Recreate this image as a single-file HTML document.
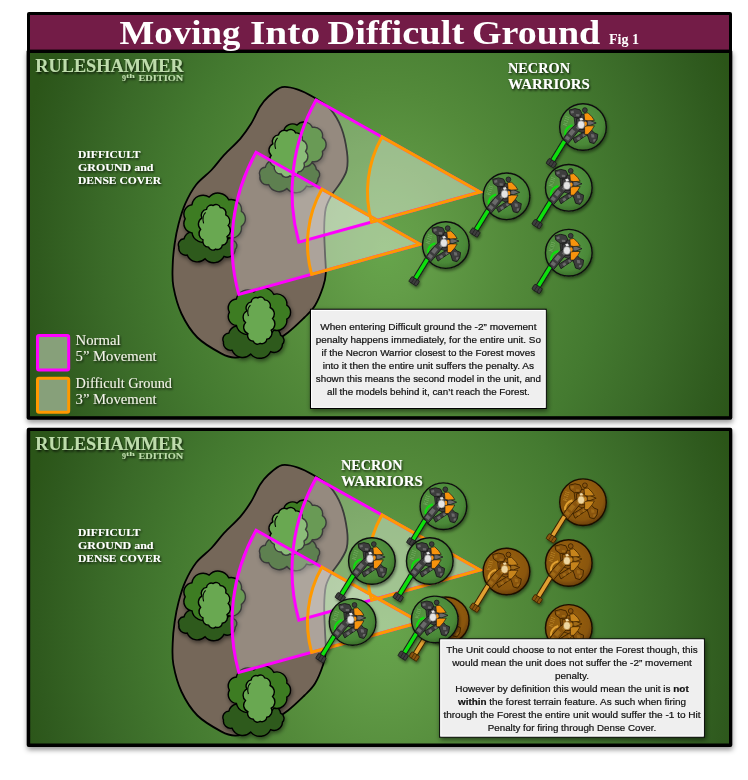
<!DOCTYPE html>
<html><head><meta charset="utf-8"><title>Moving Into Difficult Ground</title>
<style>html,body{margin:0;padding:0;background:#fff;width:748px;height:780px;overflow:hidden;font-family:"Liberation Sans",sans-serif}svg{display:block}</style>
</head><body>
<svg width="748" height="780" viewBox="0 0 748 780">
<defs>
  <radialGradient id="bg1" cx="0" cy="0" r="1" gradientUnits="userSpaceOnUse" gradientTransform="translate(385,250) scale(372,465)">
    <stop offset="0" stop-color="#66a54b"/>
    <stop offset="0.1" stop-color="#639d48"/>
    <stop offset="0.34" stop-color="#538a3a"/>
    <stop offset="0.58" stop-color="#447a30"/>
    <stop offset="0.76" stop-color="#3a6a28"/>
    <stop offset="0.93" stop-color="#2f5a1e"/>
    <stop offset="1" stop-color="#2b5518"/>
  </radialGradient>
  <radialGradient id="bg2" href="#bg1" gradientTransform="translate(385,628) scale(372,465)"/>
  <radialGradient id="pinkfill1" cx="480" cy="192" r="188" gradientUnits="userSpaceOnUse">
    <stop offset="0.58" stop-color="#fff" stop-opacity="0.02"/>
    <stop offset="0.77" stop-color="#fff" stop-opacity="0.23"/>
    <stop offset="1" stop-color="#fff" stop-opacity="0.3"/>
  </radialGradient>
  <radialGradient id="pinkfill2" href="#pinkfill1" cx="420" cy="244.2"/>
  <radialGradient id="basegr" cx="0.45" cy="0.4" r="0.6">
    <stop offset="0" stop-color="#5a9a45"/>
    <stop offset="0.8" stop-color="#4a8838"/>
    <stop offset="1" stop-color="#3a6e2a"/>
  </radialGradient>
  <radialGradient id="basebr" cx="0.45" cy="0.4" r="0.6">
    <stop offset="0" stop-color="#9c6410"/>
    <stop offset="0.8" stop-color="#8a560c"/>
    <stop offset="1" stop-color="#6a3e06"/>
  </radialGradient>
  <filter id="psh" x="-5%" y="-5%" width="110%" height="115%">
    <feDropShadow dx="0.5" dy="3" stdDeviation="2.8" flood-color="#000" flood-opacity="0.4"/>
  </filter>
  <filter id="tsh" x="-20%" y="-20%" width="140%" height="140%">
    <feDropShadow dx="1" dy="2" stdDeviation="2" flood-color="#000" flood-opacity="0.5"/>
  </filter>
  <filter id="msh" x="-30%" y="-30%" width="160%" height="160%">
    <feDropShadow dx="1" dy="2" stdDeviation="1.5" flood-color="#000" flood-opacity="0.45"/>
  </filter>
  <filter id="txsh" x="-10%" y="-30%" width="120%" height="160%">
    <feDropShadow dx="1" dy="1.5" stdDeviation="1.2" flood-color="#000" flood-opacity="0.8"/>
  </filter>
  <filter id="bxsh" x="-10%" y="-10%" width="120%" height="130%">
    <feDropShadow dx="1" dy="2" stdDeviation="2.5" flood-color="#000" flood-opacity="0.55"/>
  </filter>
  <filter id="noop" x="0" y="0" width="1" height="1"><feOffset dx="0" dy="0"/></filter>
  <clipPath id="c1"><rect x="30" y="53" width="699" height="363.2"/></clipPath>
  <clipPath id="c2"><rect x="30.2" y="431" width="698.8" height="312.5"/></clipPath>
<g id="nec">
  <circle r="23.3" fill="url(#basegr)" stroke="#111" stroke-width="1.4"/>
  <text x="-16.5" y="-0.5" font-family="Liberation Serif" font-size="6" fill="#79b065" transform="rotate(-72 -16.5 -0.5)">KIII</text>
  <path d="M-18.5,14.2 L-30.8,34.2" stroke="#1a1a1a" stroke-width="5.6"/>
  <path d="M-18.5,14.2 L-30.8,34.2" stroke="#0be00b" stroke-width="3.6"/>
  <g transform="translate(-31.6,36.2) rotate(32)"><rect x="-4.6" y="-3" width="9.2" height="6" rx="1.2" fill="#3e3e3e" stroke="#1a1a1a" stroke-width="0.8"/><path d="M-1.5,-3 V3 M1.5,-3 V3" stroke="#1a1a1a" stroke-width="0.6"/></g>
  <path d="M-17.8,8 C-18.5,3 -15,-0.5 -10.5,-1.8" fill="none" stroke="#0be00b" stroke-width="2.2"/>
  <path d="M-9,-11 L-2,-13 L3,-12 L4.5,-5 L4,4 L0,6 L-5,4 L-8,-2Z" fill="#3e3e3e" stroke="#1a1a1a" stroke-width="0.8"/>
  <path d="M-13.8,-17 L-8,-18.4 L-3,-17.2 L-1.2,-13.6 L-2.6,-10 L-8.5,-9.4 L-13,-12.6Z" fill="#3e3e3e" stroke="#1a1a1a" stroke-width="0.9"/>
  <path d="M-7,-13 L-3.6,-12.8 L-3.8,-10.6 L-6.8,-10.8Z" fill="#6a6a6a"/>
  <path d="M-12.5,-15.5 L-9.5,-16.5 L-9,-14 L-11.8,-13.4Z" fill="#6a6a6a"/>
  <circle cx="1.9" cy="-16.9" r="2.4" fill="#3e3e3e" stroke="#1a1a1a" stroke-width="0.8"/>
  <path d="M-6.5,-8.5 L2.2,-9 L4,-3 L2.6,2.5 L-2.5,2.6 L-6.8,-1Z" fill="#3e3e3e" stroke="#1a1a1a" stroke-width="0.8"/>
  <path d="M4.2,-6.4 L7,-6.6 L13.2,-4 L7,-1.6 L4.2,-1.8Z" fill="#6a6a6a" stroke="#1a1a1a" stroke-width="0.8"/>
  <path d="M4.6,2.8 L8.8,3.2 L11,5.8 L14.8,7.4 L14,12.6 L11.2,16.6 L6.8,15.4 L5.5,11 L3.8,7Z" fill="#3e3e3e" stroke="#1a1a1a" stroke-width="0.9"/>
  <path d="M8,7 L11,7.5 L11.5,10.5 L8.5,10.5Z M10.5,12.2 L12.8,12 L12,14.6 L10,14.4Z" fill="#6a6a6a"/>
  <path d="M-10,11.6 L-4.8,8.4 L0.2,5.4 L3.4,4 L4.8,7.4 L0.8,10 L-4,13.2 L-7.8,16Z" fill="#3e3e3e" stroke="#1a1a1a" stroke-width="0.9"/>
  <path d="M-6.5,11.2 L-3.8,9.6 L-2.4,12 L-5,13.6Z M-0.8,7.8 L1.8,6.4 L2.8,8.6 L0.4,10Z" fill="#6a6a6a"/>
  <path d="M-19.6,11.6 L-16.6,7.2 L-12.6,2.4 L-8.2,-1.8 L-3.8,-4.8 L-0.4,-0.8 L-4.2,3.6 L-8.2,8.4 L-12,13.2 L-15.4,17Z" fill="#3e3e3e" stroke="#1a1a1a" stroke-width="0.9"/>
  <path d="M-14.6,6.4 L-11,1.8 L-7.8,4.4 L-11.4,9Z M-18.2,11.2 L-16,8.4 L-12.8,11 L-14.8,13.8Z M-7,0.6 L-4.4,-2 L-2.4,0 L-4.8,2.8Z" fill="#6a6a6a"/>
  <path d="M1,-13.6 L5,-14.2 L9,-10.2 L11.4,-6.6 L5,-6.2 L1.6,-6.8Z" fill="#f7930f" stroke="#1a1a1a" stroke-width="0.7"/>
  <path d="M1.6,-0.6 L5,-1.2 L11.4,-1.2 L9,2.8 L5,7.4 L1.6,7.4Z" fill="#f7930f" stroke="#1a1a1a" stroke-width="0.7"/>
  <ellipse cx="2.4" cy="-3.2" rx="1.5" ry="2.2" fill="#f7930f"/>
  <ellipse cx="-1.9" cy="-2.2" rx="3.5" ry="4" fill="#e4e4e4" stroke="#6a6a6a" stroke-width="0.5"/>
  <path d="M-3.6,-8.6 L-0.8,-9.2 L0.2,-7 L-2.6,-6.4Z" fill="#e4e4e4"/>
</g>
<g id="necb">
  <circle r="23.3" fill="url(#basebr)" stroke="#1a0e00" stroke-width="1.4"/>
  <text x="-16.5" y="-0.5" font-family="Liberation Serif" font-size="6" fill="#c08a2a" transform="rotate(-72 -16.5 -0.5)">KIII</text>
  <path d="M-18.5,14.2 L-30.8,34.2" stroke="#3a2000" stroke-width="5.6"/>
  <path d="M-18.5,14.2 L-30.8,34.2" stroke="#e0a030" stroke-width="3.6"/>
  <g transform="translate(-31.6,36.2) rotate(32)"><rect x="-4.6" y="-3" width="9.2" height="6" rx="1.2" fill="#8a5510" stroke="#3a2000" stroke-width="0.8"/><path d="M-1.5,-3 V3 M1.5,-3 V3" stroke="#3a2000" stroke-width="0.6"/></g>
  <path d="M-17.8,8 C-18.5,3 -15,-0.5 -10.5,-1.8" fill="none" stroke="#e0a030" stroke-width="2.2"/>
  <path d="M-9,-11 L-2,-13 L3,-12 L4.5,-5 L4,4 L0,6 L-5,4 L-8,-2Z" fill="#8a5510" stroke="#3a2000" stroke-width="0.8"/>
  <path d="M-13.8,-17 L-8,-18.4 L-3,-17.2 L-1.2,-13.6 L-2.6,-10 L-8.5,-9.4 L-13,-12.6Z" fill="#8a5510" stroke="#3a2000" stroke-width="0.9"/>
  <path d="M-7,-13 L-3.6,-12.8 L-3.8,-10.6 L-6.8,-10.8Z" fill="#a06a18"/>
  <path d="M-12.5,-15.5 L-9.5,-16.5 L-9,-14 L-11.8,-13.4Z" fill="#a06a18"/>
  <circle cx="1.9" cy="-16.9" r="2.4" fill="#8a5510" stroke="#3a2000" stroke-width="0.8"/>
  <path d="M-6.5,-8.5 L2.2,-9 L4,-3 L2.6,2.5 L-2.5,2.6 L-6.8,-1Z" fill="#8a5510" stroke="#3a2000" stroke-width="0.8"/>
  <path d="M4.2,-6.4 L7,-6.6 L13.2,-4 L7,-1.6 L4.2,-1.8Z" fill="#a06a18" stroke="#3a2000" stroke-width="0.8"/>
  <path d="M4.6,2.8 L8.8,3.2 L11,5.8 L14.8,7.4 L14,12.6 L11.2,16.6 L6.8,15.4 L5.5,11 L3.8,7Z" fill="#8a5510" stroke="#3a2000" stroke-width="0.9"/>
  <path d="M8,7 L11,7.5 L11.5,10.5 L8.5,10.5Z M10.5,12.2 L12.8,12 L12,14.6 L10,14.4Z" fill="#a06a18"/>
  <path d="M-10,11.6 L-4.8,8.4 L0.2,5.4 L3.4,4 L4.8,7.4 L0.8,10 L-4,13.2 L-7.8,16Z" fill="#8a5510" stroke="#3a2000" stroke-width="0.9"/>
  <path d="M-6.5,11.2 L-3.8,9.6 L-2.4,12 L-5,13.6Z M-0.8,7.8 L1.8,6.4 L2.8,8.6 L0.4,10Z" fill="#a06a18"/>
  <path d="M-19.6,11.6 L-16.6,7.2 L-12.6,2.4 L-8.2,-1.8 L-3.8,-4.8 L-0.4,-0.8 L-4.2,3.6 L-8.2,8.4 L-12,13.2 L-15.4,17Z" fill="#8a5510" stroke="#3a2000" stroke-width="0.9"/>
  <path d="M-14.6,6.4 L-11,1.8 L-7.8,4.4 L-11.4,9Z M-18.2,11.2 L-16,8.4 L-12.8,11 L-14.8,13.8Z M-7,0.6 L-4.4,-2 L-2.4,0 L-4.8,2.8Z" fill="#a06a18"/>
  <path d="M1,-13.6 L5,-14.2 L9,-10.2 L11.4,-6.6 L5,-6.2 L1.6,-6.8Z" fill="#c6841a" stroke="#3a2000" stroke-width="0.7"/>
  <path d="M1.6,-0.6 L5,-1.2 L11.4,-1.2 L9,2.8 L5,7.4 L1.6,7.4Z" fill="#c6841a" stroke="#3a2000" stroke-width="0.7"/>
  <ellipse cx="2.4" cy="-3.2" rx="1.5" ry="2.2" fill="#c6841a"/>
  <ellipse cx="-1.9" cy="-2.2" rx="3.5" ry="4" fill="#eed6a0" stroke="#a06a18" stroke-width="0.5"/>
  <path d="M-3.6,-8.6 L-0.8,-9.2 L0.2,-7 L-2.6,-6.4Z" fill="#eed6a0"/>
</g>

</defs>
<rect width="748" height="780" fill="#fff"/>

<g filter="url(#psh)"><rect x="26.6" y="49.6" width="705.7" height="370.2" rx="2" fill="#000"/></g>
<rect x="30" y="53" width="699" height="363.2" fill="url(#bg1)"/>
<g filter="url(#psh)"><rect x="26.7" y="427.8" width="705.6" height="319.2" rx="2" fill="#000"/></g>
<rect x="30.2" y="431" width="698.8" height="312.5" fill="url(#bg2)"/>
<rect x="27" y="12" width="705" height="41" rx="2" fill="#000"/>
<rect x="30" y="15" width="699" height="34.6" fill="#731c47"/>
<g filter="url(#noop)">
<text x="119.6" y="44.0" font-family="Liberation Serif" font-size="33.00" font-weight="bold" fill="#fff" text-anchor="start" textLength="120.7" lengthAdjust="spacingAndGlyphs" >Moving</text>
<text x="250.0" y="44.0" font-family="Liberation Serif" font-size="33.00" font-weight="bold" fill="#fff" text-anchor="start" textLength="70.1" lengthAdjust="spacingAndGlyphs" >Into</text>
<text x="327.6" y="44.0" font-family="Liberation Serif" font-size="33.00" font-weight="bold" fill="#fff" text-anchor="start" textLength="136.6" lengthAdjust="spacingAndGlyphs" >Difficult</text>
<text x="472.0" y="44.0" font-family="Liberation Serif" font-size="33.00" font-weight="bold" fill="#fff" text-anchor="start" textLength="128.2" lengthAdjust="spacingAndGlyphs" >Ground</text>
<text x="609.0" y="44.3" font-family="Liberation Serif" font-size="14.00" font-weight="bold" fill="#fff" text-anchor="start" textLength="30.0" lengthAdjust="spacingAndGlyphs" >Fig 1</text>
</g>
<g clip-path="url(#c1)">
<g transform="translate(0,0)">
<path d="M282.0,87.2 C287.0,86.0 292.6,87.9 298.0,89.6 C303.4,91.3 308.8,94.4 314.2,97.6 C319.6,100.8 325.7,103.8 330.2,108.9 C334.7,114.0 338.6,120.8 341.4,128.0 C344.2,135.2 346.1,145.2 347.0,152.2 C347.9,159.2 347.9,164.8 346.7,170.0 C345.5,175.2 342.5,179.1 340.0,183.3 C337.5,187.5 334.1,190.8 331.7,195.0 C329.3,199.2 327.1,202.8 325.8,208.3 C324.6,213.9 324.3,220.8 324.2,228.3 C324.1,235.8 324.7,245.8 325.0,253.3 C325.3,260.8 326.1,267.7 325.8,273.3 C325.5,278.9 324.9,281.3 323.1,286.7 C321.3,292.1 318.1,300.4 315.0,305.5 C311.9,310.6 308.8,313.1 304.4,317.5 C299.9,321.9 294.4,327.4 288.3,332.2 C282.2,336.9 274.4,342.3 268.0,346.0 C261.6,349.7 255.5,352.6 250.0,354.5 C244.5,356.4 239.7,357.8 234.9,357.6 C230.2,357.5 227.8,357.0 221.5,353.6 C215.2,350.2 204.1,344.2 197.4,337.5 C190.7,330.8 185.4,322.0 181.4,313.5 C177.4,305.0 174.9,294.8 173.4,286.7 C171.9,278.6 172.5,272.2 172.7,265.0 C172.9,257.8 173.7,250.4 174.7,243.5 C175.7,236.6 176.9,230.2 178.7,223.5 C180.5,216.8 182.5,209.9 185.4,203.4 C188.3,196.9 191.8,190.3 196.1,184.7 C200.4,179.1 206.8,175.0 211.5,170.0 C216.2,165.0 219.4,160.1 224.2,154.9 C229.0,149.7 235.8,143.9 240.2,138.8 C244.6,133.7 247.6,129.4 250.9,124.1 C254.2,118.8 257.1,111.2 260.0,106.7 C262.9,102.2 264.3,100.2 268.0,97.0 C271.7,93.8 277.0,88.4 282.0,87.2Z" fill="#756759" stroke="#000" stroke-width="1.8"/>
<g filter="url(#tsh)">
<path d="M318.1,178.5 A8.3,8.3 0 0 1 306.5,186.1 A11.8,11.8 0 0 1 286.9,188.5 A11.3,11.3 0 0 1 268.6,184.6 A7.2,7.2 0 0 1 260.0,176.2 A6.2,6.2 0 0 1 265.3,167.2 A10.4,10.4 0 0 1 281.8,161.9 A12.1,12.1 0 0 1 302.0,162.7 A9.4,9.4 0 0 1 316.3,169.3 A5.7,5.7 0 0 1 318.1,178.5Z" fill="#2d5a1b" stroke="#000" stroke-width="1.4"/>
<path d="M312.4,127.4 A8.6,8.6 0 0 1 322.4,137.7 A8.1,8.1 0 0 1 322.4,151.3 A8.6,8.6 0 0 1 312.4,161.6 A9.3,9.3 0 0 1 297.0,163.9 A9.0,9.0 0 0 1 283.6,157.2 A8.3,8.3 0 0 1 278.3,144.5 A8.3,8.3 0 0 1 283.6,131.8 A9.0,9.0 0 0 1 297.0,125.1 A9.3,9.3 0 0 1 312.4,127.4Z" fill="#3e7b24" stroke="#000" stroke-width="1.4"/>
<path d="M286.9,130.9 A5.6,5.6 0 0 1 295.7,132.9 A6.3,6.3 0 0 1 302.5,140.4 A7.1,7.1 0 0 1 305.6,151.4 A7.2,7.2 0 0 1 304.0,163.0 A6.6,6.6 0 0 1 298.3,171.9 A5.8,5.8 0 0 1 289.9,175.9 A5.6,5.6 0 0 1 281.1,173.9 A6.3,6.3 0 0 1 274.3,166.4 A7.1,7.1 0 0 1 271.2,155.4 A7.2,7.2 0 0 1 272.8,143.8 A6.6,6.6 0 0 1 278.5,134.9 A5.8,5.8 0 0 1 286.9,130.9Z" fill="#69a851" stroke="#000" stroke-width="1.4"/>
<path d="M277.6,137.9 q-4,4 -2,11" fill="none" stroke="#000" stroke-width="1.1"/>
<path d="M235.3,249.3 A8.0,8.0 0 0 1 224.0,256.4 A11.5,11.5 0 0 1 205.0,258.7 A10.9,10.9 0 0 1 187.2,255.0 A6.9,6.9 0 0 1 178.9,247.1 A5.9,5.9 0 0 1 184.0,238.7 A10.1,10.1 0 0 1 200.1,233.7 A11.8,11.8 0 0 1 219.6,234.5 A9.1,9.1 0 0 1 233.5,240.6 A5.3,5.3 0 0 1 235.3,249.3Z" fill="#2d5a1b" stroke="#000" stroke-width="1.4"/>
<path d="M228.7,199.8 A10.3,10.3 0 0 1 241.4,211.3 A9.0,9.0 0 0 1 241.4,226.3 A10.3,10.3 0 0 1 228.7,237.8 A11.8,11.8 0 0 1 209.2,240.5 A11.2,11.2 0 0 1 192.0,232.9 A9.4,9.4 0 0 1 185.2,218.8 A9.4,9.4 0 0 1 192.0,204.7 A11.2,11.2 0 0 1 209.2,197.1 A11.8,11.8 0 0 1 228.7,199.8Z" fill="#3e7b24" stroke="#000" stroke-width="1.4"/>
<path d="M213.2,205.5 A4.5,4.5 0 0 1 220.3,207.5 A5.7,5.7 0 0 1 225.8,214.8 A6.8,6.8 0 0 1 228.2,225.4 A7.0,7.0 0 0 1 227.0,236.5 A6.1,6.1 0 0 1 222.3,245.2 A4.8,4.8 0 0 1 215.6,249.1 A4.5,4.5 0 0 1 208.5,247.1 A5.7,5.7 0 0 1 203.0,239.8 A6.8,6.8 0 0 1 200.6,229.2 A7.0,7.0 0 0 1 201.8,218.1 A6.1,6.1 0 0 1 206.5,209.4 A4.8,4.8 0 0 1 213.2,205.5Z" fill="#69a851" stroke="#000" stroke-width="1.4"/>
<path d="M205.6,212.4 q-4,4 -2,11" fill="none" stroke="#000" stroke-width="1.1"/>
<path d="M282.4,344.3 A8.4,8.4 0 0 1 270.6,351.7 A12.0,12.0 0 0 1 250.8,354.1 A11.4,11.4 0 0 1 232.1,350.2 A7.2,7.2 0 0 1 223.5,342.0 A6.2,6.2 0 0 1 228.8,333.1 A10.6,10.6 0 0 1 245.6,327.9 A12.3,12.3 0 0 1 266.1,328.7 A9.5,9.5 0 0 1 280.6,335.2 A5.6,5.6 0 0 1 282.4,344.3Z" fill="#2d5a1b" stroke="#000" stroke-width="1.4"/>
<path d="M273.8,294.4 A10.1,10.1 0 0 1 286.8,305.2 A8.4,8.4 0 0 1 286.8,319.2 A10.1,10.1 0 0 1 273.8,330.0 A12.0,12.0 0 0 1 253.9,332.4 A11.3,11.3 0 0 1 236.4,325.4 A8.9,8.9 0 0 1 229.4,312.2 A8.9,8.9 0 0 1 236.4,299.0 A11.3,11.3 0 0 1 253.9,292.0 A12.0,12.0 0 0 1 273.8,294.4Z" fill="#3e7b24" stroke="#000" stroke-width="1.4"/>
<path d="M257.8,297.9 A4.5,4.5 0 0 1 264.7,299.9 A5.8,5.8 0 0 1 270.1,307.5 A7.0,7.0 0 0 1 272.5,318.6 A7.2,7.2 0 0 1 271.2,330.2 A6.3,6.3 0 0 1 266.8,339.3 A4.8,4.8 0 0 1 260.2,343.3 A4.5,4.5 0 0 1 253.3,341.3 A5.8,5.8 0 0 1 247.9,333.7 A7.0,7.0 0 0 1 245.5,322.6 A7.2,7.2 0 0 1 246.8,311.0 A6.3,6.3 0 0 1 251.2,301.9 A4.8,4.8 0 0 1 257.8,297.9Z" fill="#69a851" stroke="#000" stroke-width="1.4"/>
<path d="M250.4,305.1 q-4,4 -2,11" fill="none" stroke="#000" stroke-width="1.1"/>
</g>
<path d="M480.0,192.0 L298.8,242.2 A188.0,188.0 0 0 1 316.1,100.0 Z" fill="#fff" fill-opacity="0.23" stroke="none"/>
<path d="M420.0,244.2 L238.8,294.4 A188.0,188.0 0 0 1 256.1,152.2 Z" fill="#fff" fill-opacity="0.23" stroke="none"/>
<path d="M480.0,192.0 L371.6,222.1 A112.5,112.5 0 0 1 381.9,136.9 Z" fill="#fff" fill-opacity="0.22" stroke="none"/>
<path d="M420.0,244.2 L311.6,274.3 A112.5,112.5 0 0 1 321.9,189.1 Z" fill="#fff" fill-opacity="0.22" stroke="none"/>
<path d="M480.0,192.0 L298.8,242.2 A188.0,188.0 0 0 1 316.1,100.0 Z" fill="none" stroke="#ff00ff" stroke-width="3" stroke-linejoin="miter"/>
<path d="M420.0,244.2 L238.8,294.4 A188.0,188.0 0 0 1 256.1,152.2 Z" fill="none" stroke="#ff00ff" stroke-width="3" stroke-linejoin="miter"/>
<path d="M480.0,192.0 L371.6,222.1 A112.5,112.5 0 0 1 381.9,136.9 Z" fill="none" stroke="#ff9900" stroke-width="3" stroke-linejoin="miter"/>
<path d="M420.0,244.2 L311.6,274.3 A112.5,112.5 0 0 1 321.9,189.1 Z" fill="none" stroke="#ff9900" stroke-width="3" stroke-linejoin="miter"/>
</g>
</g>
<g filter="url(#txsh)">
<text x="35.3" y="71.7" font-family="Liberation Serif" font-size="18.30" font-weight="bold" fill="#bedcac" text-anchor="start" textLength="148.3" lengthAdjust="spacingAndGlyphs" >RULESHAMMER</text>
<text x="122" y="81.3" font-family="Liberation Serif" font-weight="bold" font-size="8" fill="#bedcac">9</text>
<text x="126" y="78.1" font-family="Liberation Serif" font-weight="bold" font-size="5.5" fill="#bedcac" textLength="9" lengthAdjust="spacingAndGlyphs">th</text>
<text x="138.4" y="80.8" font-family="Liberation Serif" font-size="7.30" font-weight="bold" fill="#bedcac" text-anchor="start" textLength="44.8" lengthAdjust="spacingAndGlyphs" >EDITION</text>
<text x="78.0" y="158.1" font-family="Liberation Serif" font-size="10.80" font-weight="bold" fill="#fff" text-anchor="start" textLength="62.6" lengthAdjust="spacingAndGlyphs" >DIFFICULT</text>
<text x="78.0" y="171.0" font-family="Liberation Serif" font-size="10.80" font-weight="bold" fill="#fff" text-anchor="start" textLength="75.5" lengthAdjust="spacingAndGlyphs" >GROUND and</text>
<text x="78.0" y="183.8" font-family="Liberation Serif" font-size="10.80" font-weight="bold" fill="#fff" text-anchor="start" textLength="83.1" lengthAdjust="spacingAndGlyphs" >DENSE COVER</text>
</g>
<g clip-path="url(#c2)">
<g transform="translate(0,378)">
<path d="M282.0,87.2 C287.0,86.0 292.6,87.9 298.0,89.6 C303.4,91.3 308.8,94.4 314.2,97.6 C319.6,100.8 325.7,103.8 330.2,108.9 C334.7,114.0 338.6,120.8 341.4,128.0 C344.2,135.2 346.1,145.2 347.0,152.2 C347.9,159.2 347.9,164.8 346.7,170.0 C345.5,175.2 342.5,179.1 340.0,183.3 C337.5,187.5 334.1,190.8 331.7,195.0 C329.3,199.2 327.1,202.8 325.8,208.3 C324.6,213.9 324.3,220.8 324.2,228.3 C324.1,235.8 324.7,245.8 325.0,253.3 C325.3,260.8 326.1,267.7 325.8,273.3 C325.5,278.9 324.9,281.3 323.1,286.7 C321.3,292.1 318.1,300.4 315.0,305.5 C311.9,310.6 308.8,313.1 304.4,317.5 C299.9,321.9 294.4,327.4 288.3,332.2 C282.2,336.9 274.4,342.3 268.0,346.0 C261.6,349.7 255.5,352.6 250.0,354.5 C244.5,356.4 239.7,357.8 234.9,357.6 C230.2,357.5 227.8,357.0 221.5,353.6 C215.2,350.2 204.1,344.2 197.4,337.5 C190.7,330.8 185.4,322.0 181.4,313.5 C177.4,305.0 174.9,294.8 173.4,286.7 C171.9,278.6 172.5,272.2 172.7,265.0 C172.9,257.8 173.7,250.4 174.7,243.5 C175.7,236.6 176.9,230.2 178.7,223.5 C180.5,216.8 182.5,209.9 185.4,203.4 C188.3,196.9 191.8,190.3 196.1,184.7 C200.4,179.1 206.8,175.0 211.5,170.0 C216.2,165.0 219.4,160.1 224.2,154.9 C229.0,149.7 235.8,143.9 240.2,138.8 C244.6,133.7 247.6,129.4 250.9,124.1 C254.2,118.8 257.1,111.2 260.0,106.7 C262.9,102.2 264.3,100.2 268.0,97.0 C271.7,93.8 277.0,88.4 282.0,87.2Z" fill="#756759" stroke="#000" stroke-width="1.8"/>
<g filter="url(#tsh)">
<path d="M318.1,178.5 A8.3,8.3 0 0 1 306.5,186.1 A11.8,11.8 0 0 1 286.9,188.5 A11.3,11.3 0 0 1 268.6,184.6 A7.2,7.2 0 0 1 260.0,176.2 A6.2,6.2 0 0 1 265.3,167.2 A10.4,10.4 0 0 1 281.8,161.9 A12.1,12.1 0 0 1 302.0,162.7 A9.4,9.4 0 0 1 316.3,169.3 A5.7,5.7 0 0 1 318.1,178.5Z" fill="#2d5a1b" stroke="#000" stroke-width="1.4"/>
<path d="M312.4,127.4 A8.6,8.6 0 0 1 322.4,137.7 A8.1,8.1 0 0 1 322.4,151.3 A8.6,8.6 0 0 1 312.4,161.6 A9.3,9.3 0 0 1 297.0,163.9 A9.0,9.0 0 0 1 283.6,157.2 A8.3,8.3 0 0 1 278.3,144.5 A8.3,8.3 0 0 1 283.6,131.8 A9.0,9.0 0 0 1 297.0,125.1 A9.3,9.3 0 0 1 312.4,127.4Z" fill="#3e7b24" stroke="#000" stroke-width="1.4"/>
<path d="M286.9,130.9 A5.6,5.6 0 0 1 295.7,132.9 A6.3,6.3 0 0 1 302.5,140.4 A7.1,7.1 0 0 1 305.6,151.4 A7.2,7.2 0 0 1 304.0,163.0 A6.6,6.6 0 0 1 298.3,171.9 A5.8,5.8 0 0 1 289.9,175.9 A5.6,5.6 0 0 1 281.1,173.9 A6.3,6.3 0 0 1 274.3,166.4 A7.1,7.1 0 0 1 271.2,155.4 A7.2,7.2 0 0 1 272.8,143.8 A6.6,6.6 0 0 1 278.5,134.9 A5.8,5.8 0 0 1 286.9,130.9Z" fill="#69a851" stroke="#000" stroke-width="1.4"/>
<path d="M277.6,137.9 q-4,4 -2,11" fill="none" stroke="#000" stroke-width="1.1"/>
<path d="M235.3,249.3 A8.0,8.0 0 0 1 224.0,256.4 A11.5,11.5 0 0 1 205.0,258.7 A10.9,10.9 0 0 1 187.2,255.0 A6.9,6.9 0 0 1 178.9,247.1 A5.9,5.9 0 0 1 184.0,238.7 A10.1,10.1 0 0 1 200.1,233.7 A11.8,11.8 0 0 1 219.6,234.5 A9.1,9.1 0 0 1 233.5,240.6 A5.3,5.3 0 0 1 235.3,249.3Z" fill="#2d5a1b" stroke="#000" stroke-width="1.4"/>
<path d="M228.7,199.8 A10.3,10.3 0 0 1 241.4,211.3 A9.0,9.0 0 0 1 241.4,226.3 A10.3,10.3 0 0 1 228.7,237.8 A11.8,11.8 0 0 1 209.2,240.5 A11.2,11.2 0 0 1 192.0,232.9 A9.4,9.4 0 0 1 185.2,218.8 A9.4,9.4 0 0 1 192.0,204.7 A11.2,11.2 0 0 1 209.2,197.1 A11.8,11.8 0 0 1 228.7,199.8Z" fill="#3e7b24" stroke="#000" stroke-width="1.4"/>
<path d="M213.2,205.5 A4.5,4.5 0 0 1 220.3,207.5 A5.7,5.7 0 0 1 225.8,214.8 A6.8,6.8 0 0 1 228.2,225.4 A7.0,7.0 0 0 1 227.0,236.5 A6.1,6.1 0 0 1 222.3,245.2 A4.8,4.8 0 0 1 215.6,249.1 A4.5,4.5 0 0 1 208.5,247.1 A5.7,5.7 0 0 1 203.0,239.8 A6.8,6.8 0 0 1 200.6,229.2 A7.0,7.0 0 0 1 201.8,218.1 A6.1,6.1 0 0 1 206.5,209.4 A4.8,4.8 0 0 1 213.2,205.5Z" fill="#69a851" stroke="#000" stroke-width="1.4"/>
<path d="M205.6,212.4 q-4,4 -2,11" fill="none" stroke="#000" stroke-width="1.1"/>
<path d="M282.4,344.3 A8.4,8.4 0 0 1 270.6,351.7 A12.0,12.0 0 0 1 250.8,354.1 A11.4,11.4 0 0 1 232.1,350.2 A7.2,7.2 0 0 1 223.5,342.0 A6.2,6.2 0 0 1 228.8,333.1 A10.6,10.6 0 0 1 245.6,327.9 A12.3,12.3 0 0 1 266.1,328.7 A9.5,9.5 0 0 1 280.6,335.2 A5.6,5.6 0 0 1 282.4,344.3Z" fill="#2d5a1b" stroke="#000" stroke-width="1.4"/>
<path d="M273.8,294.4 A10.1,10.1 0 0 1 286.8,305.2 A8.4,8.4 0 0 1 286.8,319.2 A10.1,10.1 0 0 1 273.8,330.0 A12.0,12.0 0 0 1 253.9,332.4 A11.3,11.3 0 0 1 236.4,325.4 A8.9,8.9 0 0 1 229.4,312.2 A8.9,8.9 0 0 1 236.4,299.0 A11.3,11.3 0 0 1 253.9,292.0 A12.0,12.0 0 0 1 273.8,294.4Z" fill="#3e7b24" stroke="#000" stroke-width="1.4"/>
<path d="M257.8,297.9 A4.5,4.5 0 0 1 264.7,299.9 A5.8,5.8 0 0 1 270.1,307.5 A7.0,7.0 0 0 1 272.5,318.6 A7.2,7.2 0 0 1 271.2,330.2 A6.3,6.3 0 0 1 266.8,339.3 A4.8,4.8 0 0 1 260.2,343.3 A4.5,4.5 0 0 1 253.3,341.3 A5.8,5.8 0 0 1 247.9,333.7 A7.0,7.0 0 0 1 245.5,322.6 A7.2,7.2 0 0 1 246.8,311.0 A6.3,6.3 0 0 1 251.2,301.9 A4.8,4.8 0 0 1 257.8,297.9Z" fill="#69a851" stroke="#000" stroke-width="1.4"/>
<path d="M250.4,305.1 q-4,4 -2,11" fill="none" stroke="#000" stroke-width="1.1"/>
</g>
<path d="M480.0,192.0 L298.8,242.2 A188.0,188.0 0 0 1 316.1,100.0 Z" fill="#fff" fill-opacity="0.23" stroke="none"/>
<path d="M420.0,244.2 L238.8,294.4 A188.0,188.0 0 0 1 256.1,152.2 Z" fill="#fff" fill-opacity="0.23" stroke="none"/>
<path d="M480.0,192.0 L371.6,222.1 A112.5,112.5 0 0 1 381.9,136.9 Z" fill="#fff" fill-opacity="0.22" stroke="none"/>
<path d="M420.0,244.2 L311.6,274.3 A112.5,112.5 0 0 1 321.9,189.1 Z" fill="#fff" fill-opacity="0.22" stroke="none"/>
<path d="M480.0,192.0 L298.8,242.2 A188.0,188.0 0 0 1 316.1,100.0 Z" fill="none" stroke="#ff00ff" stroke-width="3" stroke-linejoin="miter"/>
<path d="M420.0,244.2 L238.8,294.4 A188.0,188.0 0 0 1 256.1,152.2 Z" fill="none" stroke="#ff00ff" stroke-width="3" stroke-linejoin="miter"/>
<path d="M480.0,192.0 L371.6,222.1 A112.5,112.5 0 0 1 381.9,136.9 Z" fill="none" stroke="#ff9900" stroke-width="3" stroke-linejoin="miter"/>
<path d="M420.0,244.2 L311.6,274.3 A112.5,112.5 0 0 1 321.9,189.1 Z" fill="none" stroke="#ff9900" stroke-width="3" stroke-linejoin="miter"/>
</g>
</g>
<g filter="url(#txsh)">
<text x="35.3" y="449.7" font-family="Liberation Serif" font-size="18.30" font-weight="bold" fill="#bedcac" text-anchor="start" textLength="148.3" lengthAdjust="spacingAndGlyphs" >RULESHAMMER</text>
<text x="122" y="459.3" font-family="Liberation Serif" font-weight="bold" font-size="8" fill="#bedcac">9</text>
<text x="126" y="456.1" font-family="Liberation Serif" font-weight="bold" font-size="5.5" fill="#bedcac" textLength="9" lengthAdjust="spacingAndGlyphs">th</text>
<text x="138.4" y="458.8" font-family="Liberation Serif" font-size="7.30" font-weight="bold" fill="#bedcac" text-anchor="start" textLength="44.8" lengthAdjust="spacingAndGlyphs" >EDITION</text>
<text x="78.0" y="536.1" font-family="Liberation Serif" font-size="10.80" font-weight="bold" fill="#fff" text-anchor="start" textLength="62.6" lengthAdjust="spacingAndGlyphs" >DIFFICULT</text>
<text x="78.0" y="549.0" font-family="Liberation Serif" font-size="10.80" font-weight="bold" fill="#fff" text-anchor="start" textLength="75.5" lengthAdjust="spacingAndGlyphs" >GROUND and</text>
<text x="78.0" y="561.8" font-family="Liberation Serif" font-size="10.80" font-weight="bold" fill="#fff" text-anchor="start" textLength="83.1" lengthAdjust="spacingAndGlyphs" >DENSE COVER</text>
</g>
<use href="#nec" x="506.5" y="196.3" filter="url(#msh)"/>
<use href="#nec" x="445.8" y="245.1" filter="url(#msh)"/>
<use href="#nec" x="583.0" y="127.0" filter="url(#msh)"/>
<use href="#nec" x="568.8" y="187.8" filter="url(#msh)"/>
<use href="#nec" x="568.8" y="252.7" filter="url(#msh)"/>
<g filter="url(#txsh)">
<text x="508.0" y="72.6" font-family="Liberation Serif" font-size="14.20" font-weight="bold" fill="#fff" text-anchor="start" textLength="62.0" lengthAdjust="spacingAndGlyphs" >NECRON</text>
<text x="508.0" y="89.0" font-family="Liberation Serif" font-size="14.20" font-weight="bold" fill="#fff" text-anchor="start" textLength="81.7" lengthAdjust="spacingAndGlyphs" >WARRIORS</text>
<text x="341.0" y="469.7" font-family="Liberation Serif" font-size="14.20" font-weight="bold" fill="#fff" text-anchor="start" textLength="61.6" lengthAdjust="spacingAndGlyphs" >NECRON</text>
<text x="341.0" y="486.0" font-family="Liberation Serif" font-size="14.20" font-weight="bold" fill="#fff" text-anchor="start" textLength="81.7" lengthAdjust="spacingAndGlyphs" >WARRIORS</text>
<text x="75.6" y="345.3" font-family="Liberation Serif" font-size="14.50" font-weight="normal" fill="#f2f2e8" text-anchor="start" textLength="45.0" lengthAdjust="spacingAndGlyphs" >Normal</text>
<text x="75.6" y="361.4" font-family="Liberation Serif" font-size="14.50" font-weight="normal" fill="#f2f2e8" text-anchor="start" textLength="81.0" lengthAdjust="spacingAndGlyphs" >5” Movement</text>
<text x="75.6" y="387.5" font-family="Liberation Serif" font-size="14.50" font-weight="normal" fill="#f2f2e8" text-anchor="start" textLength="96.4" lengthAdjust="spacingAndGlyphs" >Difficult Ground</text>
<text x="75.6" y="404.0" font-family="Liberation Serif" font-size="14.50" font-weight="normal" fill="#f2f2e8" text-anchor="start" textLength="81.0" lengthAdjust="spacingAndGlyphs" >3” Movement</text>
</g>
<rect x="37.5" y="335.5" width="31.2" height="34.6" fill="#87a07a" stroke="#ff00ff" stroke-width="3" rx="1.5"/>
<rect x="37.5" y="378.3" width="31.2" height="34" fill="#87a07a" stroke="#ff9900" stroke-width="3" rx="1.5"/>
<use href="#necb" x="506.5" y="571.5" filter="url(#msh)"/>
<use href="#necb" x="445.8" y="620.3" filter="url(#msh)"/>
<use href="#necb" x="583.0" y="502.2" filter="url(#msh)"/>
<use href="#necb" x="568.8" y="563.0" filter="url(#msh)"/>
<use href="#necb" x="568.8" y="627.9" filter="url(#msh)"/>
<use href="#nec" x="443.4" y="506.2" filter="url(#msh)"/>
<use href="#nec" x="371.9" y="561.0" filter="url(#msh)"/>
<use href="#nec" x="429.8" y="561.0" filter="url(#msh)"/>
<use href="#nec" x="352.6" y="621.9" filter="url(#msh)"/>
<use href="#nec" x="434.8" y="619.4" filter="url(#msh)"/>
<g filter="url(#bxsh)"><rect x="310.5" y="309.3" width="235.7" height="99.1" fill="#efefef" stroke="#000" stroke-width="1.1"/></g>
<rect x="311.6" y="310.4" width="233.5" height="96.9" fill="none" stroke="#fff" stroke-width="1"/>
<g filter="url(#noop)">
<text x="428.4" y="330.1" font-family="Liberation Sans" font-size="9.90" font-weight="normal" fill="#111" text-anchor="middle" textLength="216.2" lengthAdjust="spacingAndGlyphs" stroke="#111" stroke-width="0.22">When entering Difficult ground the -2” movement</text>
<text x="428.4" y="343.1" font-family="Liberation Sans" font-size="9.90" font-weight="normal" fill="#111" text-anchor="middle" textLength="225.2" lengthAdjust="spacingAndGlyphs" stroke="#111" stroke-width="0.22">penalty happens immediately, for the entire unit. So</text>
<text x="428.4" y="356.0" font-family="Liberation Sans" font-size="9.90" font-weight="normal" fill="#111" text-anchor="middle" textLength="213.6" lengthAdjust="spacingAndGlyphs" stroke="#111" stroke-width="0.22">if the Necron Warrior closest to the Forest moves</text>
<text x="428.4" y="369.0" font-family="Liberation Sans" font-size="9.90" font-weight="normal" fill="#111" text-anchor="middle" textLength="211.4" lengthAdjust="spacingAndGlyphs" stroke="#111" stroke-width="0.22">into it then the entire unit suffers the penalty. As</text>
<text x="428.4" y="381.9" font-family="Liberation Sans" font-size="9.90" font-weight="normal" fill="#111" text-anchor="middle" textLength="225.2" lengthAdjust="spacingAndGlyphs" stroke="#111" stroke-width="0.22">shown this means the second model in the unit, and</text>
<text x="428.4" y="394.9" font-family="Liberation Sans" font-size="9.90" font-weight="normal" fill="#111" text-anchor="middle" textLength="202.7" lengthAdjust="spacingAndGlyphs" stroke="#111" stroke-width="0.22">all the models behind it, can’t reach the Forest.</text>
</g>
<g filter="url(#bxsh)"><rect x="439.7" y="638.9" width="264.6" height="98.2" fill="#efefef" stroke="#000" stroke-width="1.1"/></g>
<rect x="440.8" y="640" width="262.4" height="96" fill="none" stroke="#fff" stroke-width="1"/>
<g filter="url(#noop)">
<text x="572.0" y="652.9" font-family="Liberation Sans" font-size="9.90" font-weight="normal" fill="#111" text-anchor="middle" textLength="251.4" lengthAdjust="spacingAndGlyphs" stroke="#111" stroke-width="0.22">The Unit could choose to not enter the Forest though, this</text>
<text x="572.0" y="665.9" font-family="Liberation Sans" font-size="9.90" font-weight="normal" fill="#111" text-anchor="middle" textLength="239.7" lengthAdjust="spacingAndGlyphs" stroke="#111" stroke-width="0.22">would mean the unit does not suffer the -2” movement</text>
<text x="572.0" y="678.8" font-family="Liberation Sans" font-size="9.90" font-weight="normal" fill="#111" text-anchor="middle" textLength="34.0" lengthAdjust="spacingAndGlyphs" stroke="#111" stroke-width="0.22">penalty.</text>
<text x="572.0" y="691.8" font-family="Liberation Sans" font-size="9.90" font-weight="normal" fill="#111" text-anchor="middle" textLength="233.5" lengthAdjust="spacingAndGlyphs" stroke="#111" stroke-width="0.22">However by definition this would mean the unit is <tspan font-weight="bold">not</tspan></text>
<text x="572.0" y="704.7" font-family="Liberation Sans" font-size="9.90" font-weight="normal" fill="#111" text-anchor="middle" textLength="228.1" lengthAdjust="spacingAndGlyphs" stroke="#111" stroke-width="0.22"><tspan font-weight="bold">within</tspan> the forest terrain feature. As such when firing</text>
<text x="572.0" y="717.6" font-family="Liberation Sans" font-size="9.90" font-weight="normal" fill="#111" text-anchor="middle" textLength="257.2" lengthAdjust="spacingAndGlyphs" stroke="#111" stroke-width="0.22">through the Forest the entire unit would suffer the -1 to Hit</text>
<text x="572.0" y="730.6" font-family="Liberation Sans" font-size="9.90" font-weight="normal" fill="#111" text-anchor="middle" textLength="168.4" lengthAdjust="spacingAndGlyphs" stroke="#111" stroke-width="0.22">Penalty for firing through Dense Cover.</text>
</g>
</svg>
</body></html>
